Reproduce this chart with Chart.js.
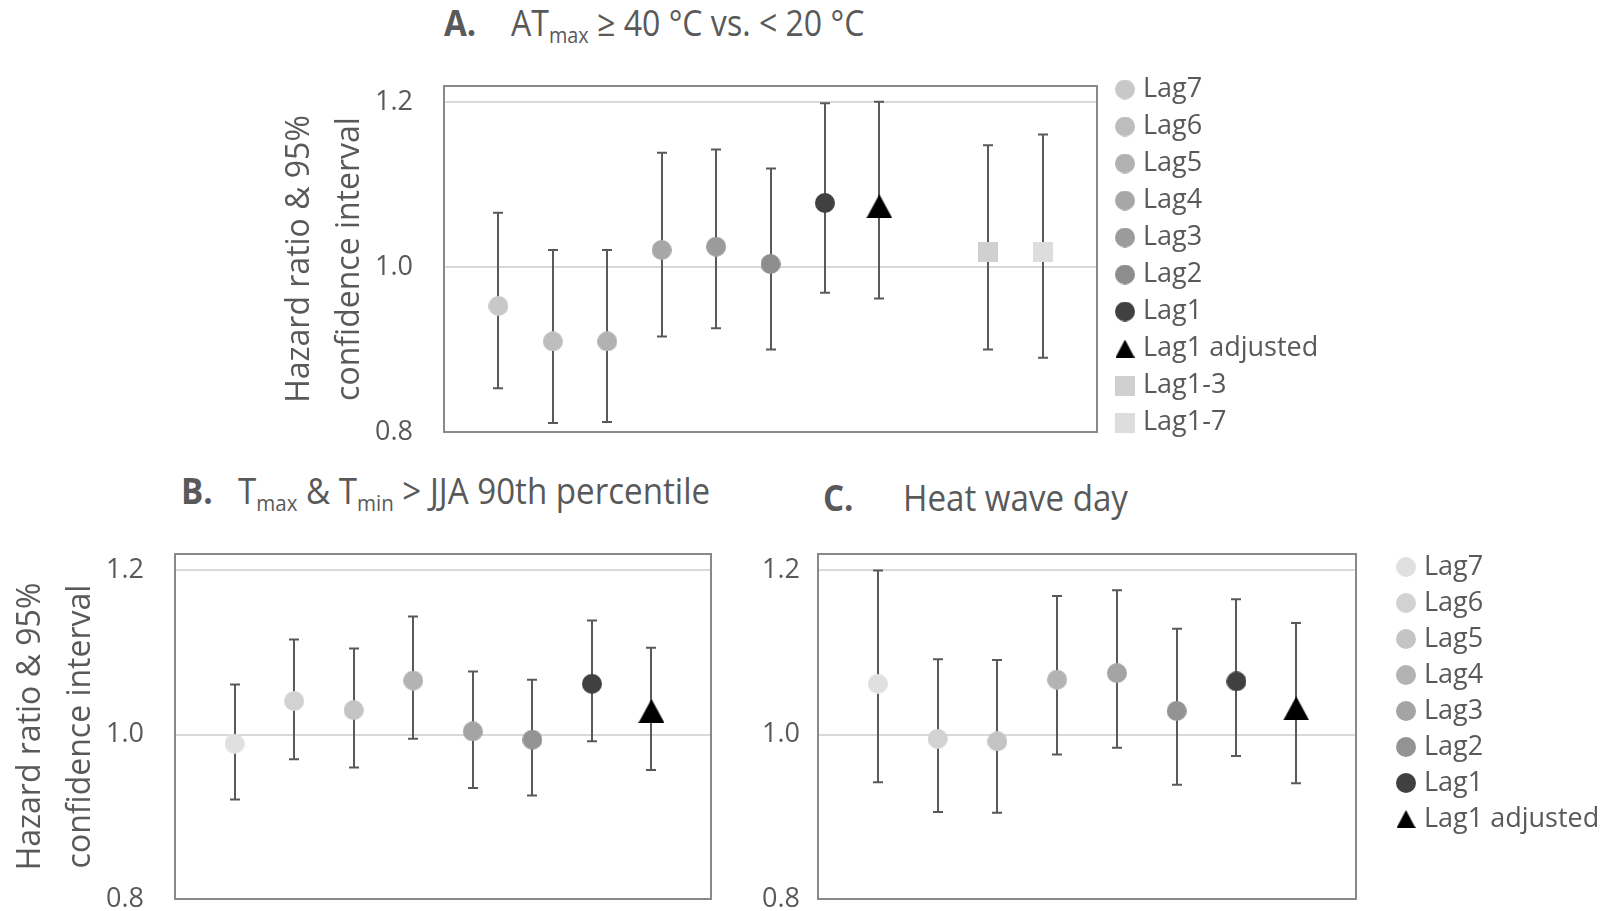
<!DOCTYPE html>
<html>
<head>
<meta charset="utf-8">
<script src="https://cdn.jsdelivr.net/npm/chart.js@4.4.0/dist/chart.umd.min.js"></script>
<style>
html, body { margin: 0; padding: 0; background: #fff; }
body { width: 1613px; height: 911px; position: relative; overflow: hidden; font-family: 'Open Sans', sans-serif; color: #595959; }
.wrap { position: absolute; left: 0; top: 0; width: 1700px; height: 951px; }
.ttl { position: absolute; white-space: nowrap; font-size: 36px; line-height: 36px; transform-origin: 0 50%; transform: scaleX(0.92); }
.ttl b { font-weight: 700; }
.ttl sub { font-size: 0.62em; vertical-align: -0.32em; line-height: 0; }
</style>
</head>
<body>
<div class="ttl" style="left:444px;top:5px"><b>A.</b></div>
<div class="ttl" style="left:511px;top:5px;transform:scaleX(0.89)">AT<sub>max</sub> ≥ 40 °C vs. &lt; 20 °C</div>
<div class="ttl" style="left:181px;top:473px"><b>B.</b></div>
<div class="ttl" style="left:238px;top:473px">T<sub>max</sub> &amp; T<sub>min</sub> &gt; JJA 90th percentile</div>
<div class="ttl" style="left:823px;top:480px"><b>C.</b></div>
<div class="ttl" style="left:903px;top:480px">Heat wave day</div>

<div class="wrap"><canvas id="chartA"></canvas></div>
<div class="wrap"><canvas id="chartB"></canvas></div>
<div class="wrap"><canvas id="chartC"></canvas></div>

<script>
// Panel A: AT max >= 40 C vs < 20 C
const labelsA = ['Lag7', 'Lag6', 'Lag5', 'Lag4', 'Lag3', 'Lag2', 'Lag1', 'Lag1 adjusted', 'Lag1-3', 'Lag1-7'];
const xPosA = [1, 2, 3, 4, 5, 6, 7, 8, 10, 11];
const hrA = [0.953, 0.910, 0.910, 1.021, 1.025, 1.004, 1.078, 1.074, 1.018, 1.018];
const lowA = [0.853, 0.811, 0.812, 0.916, 0.926, 0.900, 0.969, 0.962, 0.900, 0.890];
const highA = [1.066, 1.021, 1.021, 1.139, 1.143, 1.120, 1.199, 1.201, 1.148, 1.161];

// Panels B and C share the lags
const labelsBC = ['Lag7', 'Lag6', 'Lag5', 'Lag4', 'Lag3', 'Lag2', 'Lag1', 'Lag1 adjusted'];
const xPosBC = [1, 2, 3, 4, 5, 6, 7, 8];

// Panel B: Tmax & Tmin > JJA 90th percentile
const hrB = [0.989, 1.041, 1.030, 1.066, 1.004, 0.994, 1.062, 1.029];
const lowB = [0.921, 0.970, 0.960, 0.995, 0.935, 0.926, 0.992, 0.957];
const highB = [1.061, 1.116, 1.105, 1.144, 1.077, 1.067, 1.139, 1.106];

// Panel C: heat wave day
const hrC = [1.062, 0.995, 0.992, 1.067, 1.075, 1.029, 1.065, 1.032];
const lowC = [0.942, 0.906, 0.905, 0.976, 0.984, 0.939, 0.974, 0.941];
const highC = [1.200, 1.092, 1.091, 1.169, 1.176, 1.129, 1.165, 1.136];

// y axis
const tickValues = [0.8, 1.0, 1.2];
const yMin = 0.8;
const yMax = 1.22;
const yTitle = ['Hazard ratio & 95%', 'confidence interval'];

// marker styles
const colorsA = ['#c8c8c8', '#bdbdbd', '#b1b1b1', '#a7a7a7', '#9b9b9b', '#8d8d8d', '#404040', '#000000', '#d0d0d0', '#dddddd'];
const shapesA = ['circle', 'circle', 'circle', 'circle', 'circle', 'circle', 'circle', 'triangle', 'rect', 'rect'];
const colorsBC = ['#e0e0e0', '#d2d2d2', '#c4c4c4', '#b3b3b3', '#a4a4a4', '#939393', '#404040', '#000000'];
const shapesBC = ['circle', 'circle', 'circle', 'circle', 'circle', 'circle', 'circle', 'triangle'];

const TEXT = '#595959';
const FONT = 'Open Sans';
const LEGEND_SIZE = 27;
const CANVAS_W = 1700;

function makeMarker(shape, color, legend) {
    const c = document.createElement('canvas');
    let w = 20, h = 20;
    if (shape === 'triangle') { w = legend ? 19 : 26; h = legend ? 18 : 24; }
    c.width = w; c.height = h;
    const g = c.getContext('2d');
    g.fillStyle = color;
    g.beginPath();
    if (shape === 'circle') {
        g.arc(w / 2, h / 2, w / 2, 0, Math.PI * 2);
    } else if (shape === 'triangle') {
        g.moveTo(w / 2, 0);
        g.lineTo(w, h);
        g.lineTo(0, h);
        g.closePath();
    } else {
        g.rect(0, 0, w, h);
    }
    g.fill();
    return c;
}

// widest legend label, so the legend box can be placed exactly
function legendWidth(labels, pad) {
    const m = document.createElement('canvas').getContext('2d');
    m.font = LEGEND_SIZE + 'px ' + FONT;
    const textW = Math.max(...labels.map(l => m.measureText(l).width));
    return pad + 9 + LEGEND_SIZE / 2 + textW + 10;
}

// whiskers + plot frame, drawn with the chart's own scales
const errorBars = {
    id: 'errorBars',
    beforeDatasetsDraw(chart) {
        const { ctx, chartArea, scales } = chart;
        ctx.save();
        ctx.strokeStyle = '#898989';
        ctx.lineWidth = 2;
        ctx.strokeRect(chartArea.left, chartArea.top, chartArea.right - chartArea.left, chartArea.bottom - chartArea.top);
        ctx.strokeStyle = '#595959';
        ctx.lineWidth = 2;
        chart.data.datasets.forEach(ds => {
            ds.data.forEach((pt, i) => {
                const px = Math.round(scales.x.getPixelForValue(pt.x));
                const yLo = scales.y.getPixelForValue(ds.errLow[i]);
                const yHi = scales.y.getPixelForValue(ds.errHigh[i]);
                ctx.beginPath();
                ctx.moveTo(px, yLo); ctx.lineTo(px, yHi);
                ctx.moveTo(px - 5, yLo); ctx.lineTo(px + 5, yLo);
                ctx.moveTo(px - 5, yHi); ctx.lineTo(px + 5, yHi);
                ctx.stroke();
            });
        });
        ctx.restore();
    }
};

function spacer(size, horizontal) {
    return {
        type: 'linear',
        display: true,
        ticks: { display: false },
        grid: { display: false, drawTicks: false },
        border: { display: false },
        afterFit: function (scale) {
            if (horizontal) scale.height = size; else scale.width = size;
        }
    };
}

function buildChart(id, p) {
    const plotMarkers = p.labels.map((l, i) => makeMarker(p.shapes[i], p.colors[i], false));
    const legendMarkers = p.labels.map((l, i) => makeMarker(p.shapes[i], p.colors[i], true));

    const datasets = p.labels.map((label, i) => ({
        label: label,
        data: [{ x: p.xs[i], y: p.hr[i] }],
        errLow: [p.low[i]],
        errHigh: [p.high[i]],
        pointStyle: plotMarkers[i],
        pointRadius: 10,
        showLine: false
    }));

    // right edge: plot | spacer | legend | padding
    const pad = Object.assign({}, p.pad);
    if (p.legend) {
        pad.right = CANVAS_W - (p.plotRight + p.rightGap) - legendWidth(p.labels, p.legendPad);
    } else {
        pad.right = CANVAS_W - p.plotRight;
    }

    const scales = {
        x: Object.assign(spacer(p.bottomGap, true), { position: 'bottom', min: 0, max: p.xMax }),
        xTop: Object.assign(spacer(p.topGap, true), { position: 'top', axis: 'x', min: 0, max: 1 }),
        y: {
            type: 'linear',
            position: 'left',
            min: yMin,
            max: yMax,
            afterBuildTicks: function (scale) {
                scale.ticks = tickValues.map(v => ({ value: v }));
            },
            afterFit: function (scale) { scale.width = p.yWidth; },
            ticks: {
                padding: p.tickPad,
                color: TEXT,
                font: { family: FONT, size: 27 },
                callback: v => v.toFixed(1)
            },
            grid: { color: '#d9d9d9', lineWidth: 2, drawTicks: false },
            border: { display: false },
            title: {
                display: p.showTitle,
                text: yTitle,
                color: TEXT,
                font: { family: FONT, size: 32, lineHeight: 50 / 32 },
                padding: { top: 5, bottom: 0 }
            }
        }
    };
    if (p.legend) {
        scales.yRight = Object.assign(spacer(p.rightGap, false), { position: 'right', axis: 'y' });
    }

    new Chart(document.getElementById(id), {
        type: 'scatter',
        data: { datasets: datasets },
        options: {
            responsive: true,
            maintainAspectRatio: false,
            animation: false,
            events: [],
            layout: { padding: pad },
            scales: scales,
            plugins: {
                tooltip: { enabled: false },
                legend: {
                    display: p.legend,
                    position: 'right',
                    align: 'start',
                    maxWidth: 600,
                    maxHeight: 900,
                    labels: {
                        usePointStyle: true,
                        boxWidth: 9,
                        boxHeight: 9,
                        padding: p.legendPad,
                        color: TEXT,
                        font: { family: FONT, size: LEGEND_SIZE },
                        generateLabels: function (chart) {
                            const items = Chart.defaults.plugins.legend.labels.generateLabels(chart);
                            items.forEach((it, i) => { it.pointStyle = legendMarkers[i]; });
                            return items;
                        }
                    }
                }
            }
        },
        plugins: [errorBars]
    });
}

// canvas is 1700 x 951; plot boxes: A 444-1097 / 86-432, B 175-711 / 554-899, C 818-1356 / 554-899
buildChart('chartA', {
    labels: labelsA, xs: xPosA, hr: hrA, low: lowA, high: highA,
    colors: colorsA, shapes: shapesA, xMax: 12,
    pad: { left: 270, top: 66, bottom: 0 }, plotRight: 1097,
    topGap: 20, bottomGap: 519, rightGap: 13.5, yWidth: 174, tickPad: 31,
    showTitle: true, legend: true, legendPad: 10
});

buildChart('chartB', {
    labels: labelsBC, xs: xPosBC, hr: hrB, low: lowB, high: highB,
    colors: colorsBC, shapes: shapesBC, xMax: 9,
    pad: { left: 1, top: 544, bottom: 0 }, plotRight: 711,
    topGap: 10, bottomGap: 52, yWidth: 174, tickPad: 31,
    showTitle: true, legend: false, legendPad: 9
});

buildChart('chartC', {
    labels: labelsBC, xs: xPosBC, hr: hrC, low: lowC, high: highC,
    colors: colorsBC, shapes: shapesBC, xMax: 9,
    pad: { left: 758, top: 544.5, bottom: 0 }, plotRight: 1356,
    topGap: 9.5, bottomGap: 52, rightGap: 36.5, yWidth: 60, tickPad: 18,
    showTitle: false, legend: true, legendPad: 9
});
</script>
</body>
</html>
